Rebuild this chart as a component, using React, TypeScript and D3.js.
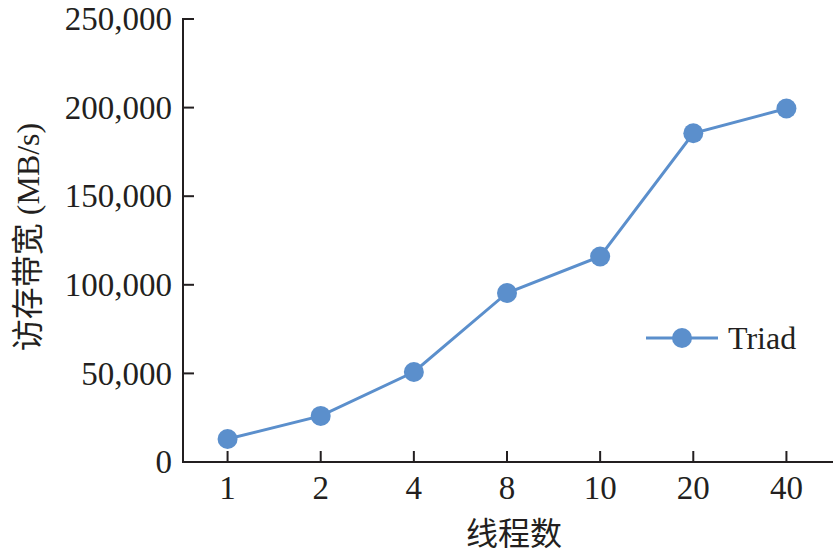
import React, { useEffect, useRef } from 'react';
import * as d3 from 'd3';

const threads = ['1', '2', '4', '8', '10', '20', '40'];
const triad = [13000, 26000, 50800, 95400, 116000, 185500, 199500];
const yTicks = [0, 50000, 100000, 150000, 200000, 250000];
const seriesName = 'Triad';
const xTitle = '线程数';
const yTitle = '访存带宽 (MB/s)';

const W = 833;
const H = 552;
const BLUE = '#5b8fcc';
const INK = '#231f20';
const FONT = '"Liberation Serif", "Times New Roman", "Noto Sans CJK SC", serif';

const App: React.FC = () => {
  const svgRef = useRef<SVGSVGElement>(null);

  useEffect(() => {
    if (!svgRef.current) return;
    const svg = d3.select(svgRef.current);
    svg.selectAll('*').remove();

    const axisX = 183;
    const axisY = 462;
    const x = d3.scaleBand<string>().domain(threads).range([181, 833]);
    const y = d3.scaleLinear().domain([0, 250000]).range([axisY, 19]);
    const cx = (d: string) => (x(d) ?? 0) + x.bandwidth() / 2;

    // y axis
    svg.append('line')
      .attr('x1', axisX).attr('x2', axisX)
      .attr('y1', y(250000) - 1).attr('y2', axisY)
      .attr('stroke', INK).attr('stroke-width', 2);
    const yg = svg.append('g');
    yg.selectAll('line').data(yTicks).join('line')
      .attr('x1', axisX).attr('x2', axisX + 11)
      .attr('y1', d => y(d)).attr('y2', d => y(d))
      .attr('stroke', INK).attr('stroke-width', 2);
    yg.selectAll('text').data(yTicks).join('text')
      .attr('x', axisX - 11).attr('y', d => y(d))
      .attr('dy', '0.34em')
      .attr('text-anchor', 'end')
      .attr('font-family', FONT).attr('font-size', 33).attr('fill', INK)
      .text(d => d3.format(',')(d));

    // x axis
    svg.append('line')
      .attr('x1', axisX - 1).attr('x2', 833)
      .attr('y1', axisY).attr('y2', axisY)
      .attr('stroke', INK).attr('stroke-width', 2);
    const xg = svg.append('g');
    xg.selectAll('line').data(threads).join('line')
      .attr('x1', cx).attr('x2', cx)
      .attr('y1', axisY).attr('y2', axisY - 11)
      .attr('stroke', INK).attr('stroke-width', 2);
    xg.selectAll('text').data(threads).join('text')
      .attr('x', cx).attr('y', 499)
      .attr('text-anchor', 'middle')
      .attr('font-family', FONT).attr('font-size', 33).attr('fill', INK)
      .text(d => d);

    // titles
    svg.append('text')
      .attr('x', 514).attr('y', 545)
      .attr('text-anchor', 'middle')
      .attr('font-family', FONT).attr('font-size', 32).attr('fill', INK)
      .text(xTitle);
    svg.append('text')
      .attr('transform', `translate(39, 237) rotate(-90)`)
      .attr('text-anchor', 'middle')
      .attr('font-family', FONT).attr('font-size', 32).attr('fill', INK)
      .text(yTitle);

    // series
    const line = d3.line<number>()
      .x((_, i) => cx(threads[i]))
      .y(d => y(d));
    svg.append('path')
      .datum(triad)
      .attr('d', line)
      .attr('fill', 'none')
      .attr('stroke', BLUE)
      .attr('stroke-width', 3);
    svg.append('g').selectAll('circle').data(triad).join('circle')
      .attr('cx', (_, i) => cx(threads[i]))
      .attr('cy', d => y(d))
      .attr('r', 10)
      .attr('fill', BLUE);

    // legend
    const lg = svg.append('g').attr('transform', 'translate(646, 338)');
    lg.append('line').attr('x1', 0).attr('x2', 72).attr('y1', 0).attr('y2', 0)
      .attr('stroke', BLUE).attr('stroke-width', 3);
    lg.append('circle').attr('cx', 36).attr('cy', 0).attr('r', 10).attr('fill', BLUE);
    lg.append('text')
      .attr('x', 82).attr('y', 0).attr('dy', '0.34em')
      .attr('font-family', FONT).attr('font-size', 32).attr('fill', INK)
      .text(seriesName);
  }, []);

  return (
    <svg
      ref={svgRef}
      width={W}
      height={H}
      style={{ position: 'absolute', left: 0, top: 0, background: '#fff' }}
    />
  );
};

export default App;
